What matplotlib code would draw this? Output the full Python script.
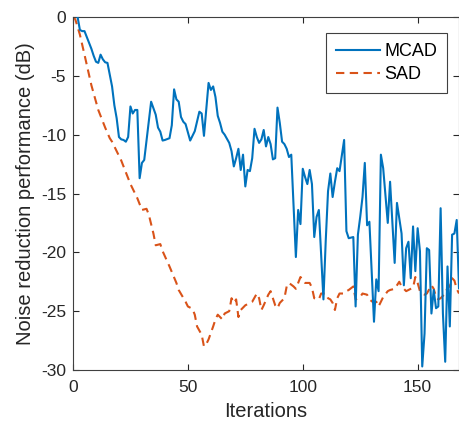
import matplotlib
matplotlib.use("Agg")
import matplotlib.pyplot as plt

plt.rcParams['font.family'] = ['Liberation Sans', 'DejaVu Sans']
plt.rcParams['axes.unicode_minus'] = False

# MCAD vertices (iteration, dB)
mcad_iter = [0, 2, 3, 4, 5, 6, 8, 9, 10, 11, 12, 13, 14, 15, 17, 18, 19, 20, 21, 22,
             23, 24, 25, 26, 27, 28, 29, 30, 31, 34, 36, 37, 38, 39, 40, 42, 43, 44, 45, 46,
             47, 48, 49, 51, 53, 55, 56, 57, 59, 60, 61, 62, 63, 64, 65, 66, 68, 69, 70, 71,
             72, 73, 74, 75, 76, 77, 78, 79, 80, 81, 82, 83, 84, 85, 86, 87, 88, 89, 90, 91,
             92, 93, 94, 95, 97, 98, 99, 100, 101, 102, 103, 104, 105, 106, 107, 109, 110, 111, 112, 113,
             114, 115, 116, 117, 118, 119, 120, 122, 123, 124, 125, 126, 127, 128, 129, 131, 132, 133, 134, 135,
             137, 138, 140, 141, 143, 144, 145, 146, 147, 148, 149, 150, 151, 152, 153, 154, 155, 156, 157, 158,
             159, 160, 161, 162, 163, 164, 165, 166, 167, 168]
mcad_db = [0.4, 0.0, -1.1, -1.2, -1.2, -1.7, -2.7, -3.3, -3.8, -3.9, -3.2, -3.6, -3.85, -3.9, -5.9, -7.5, -8.6, -10.2, -10.4, -10.45,
           -10.6, -10.2, -7.6, -8.2, -7.9, -7.9, -13.7, -12.4, -12.15, -7.2, -8.3, -9.4, -9.75, -10.5, -10.45, -10.3, -9.2, -6.15, -7.0, -7.2,
           -8.5, -8.9, -9.1, -10.5, -9.7, -8.05, -8.2, -10.1, -5.6, -6.2, -5.9, -6.8, -8.4, -9.0, -9.75, -10.0, -10.7, -11.4, -12.7, -12.0,
           -11.2, -13.0, -11.7, -14.4, -13.0, -13.1, -12.0, -9.5, -10.2, -10.7, -10.4, -9.6, -11.0, -10.2, -10.8, -12.1, -12.0, -7.7, -9.0, -10.6,
           -10.8, -11.2, -11.9, -11.7, -20.4, -16.4, -17.6, -12.9, -13.6, -14.2, -13.0, -14.2, -18.7, -17.0, -16.4, -24.0, -19.0, -14.8, -13.3, -15.3,
           -14.0, -12.85, -13.1, -11.8, -10.45, -18.2, -18.8, -18.7, -24.6, -18.5, -17.0, -15.3, -12.4, -17.7, -17.4, -25.9, -22.3, -23.3, -11.7, -12.85,
           -17.5, -14.0, -20.9, -15.8, -18.4, -22.8, -19.65, -19.1, -22.2, -17.8, -21.6, -17.95, -19.9, -29.7, -26.9, -19.65, -19.8, -25.2, -23.2, -24.75,
           -24.6, -16.25, -25.2, -29.3, -21.2, -26.3, -18.5, -18.4, -17.25, -23.05]

# SAD vertices (iteration, dB)
sad_iter = [0, 1, 3, 5, 8, 11, 14, 16, 17, 18, 21, 25, 28, 30, 32, 33, 35, 36, 38, 39,
            42, 45, 46, 49, 50, 52, 53, 54, 56, 57, 58, 59, 61, 62, 63, 65, 66, 68, 69, 70,
            71, 72, 73, 75, 78, 80, 81, 82, 83, 85, 86, 88, 89, 90, 92, 93, 94, 96, 97, 99,
            100, 101, 103, 104, 105, 107, 108, 110, 111, 112, 113, 114, 115, 116, 118, 119, 120, 122, 123, 125,
            126, 128, 129, 131, 132, 133, 135, 137, 138, 140, 142, 143, 145, 146, 148, 149, 150, 151, 153, 154,
            156, 157, 158, 159, 160, 162, 163, 164, 165, 166, 167, 168]
sad_db = [0.0, -0.2, -1.5, -3.2, -5.8, -7.9, -9.4, -10.3, -10.6, -11.0, -12.2, -14.2, -15.4, -16.4, -16.3, -16.8, -18.4, -19.4, -19.3, -19.9,
          -21.2, -22.6, -23.2, -24.2, -24.6, -24.8, -25.3, -26.3, -27.0, -28.0, -27.8, -27.4, -26.3, -25.7, -25.3, -25.7, -25.2, -25.0, -23.9, -24.3,
          -24.0, -25.5, -24.9, -24.5, -24.2, -23.5, -23.9, -24.9, -24.5, -23.6, -23.3, -24.5, -24.75, -24.3, -23.9, -22.9, -22.6, -22.9, -23.1, -22.1,
          -22.3, -22.6, -22.6, -23.0, -23.9, -24.0, -23.5, -23.5, -23.9, -24.0, -24.3, -24.9, -23.9, -23.5, -23.5, -23.3, -23.2, -22.9, -24.0, -23.8,
          -23.5, -23.6, -24.0, -24.3, -24.2, -24.6, -23.8, -23.3, -23.2, -23.1, -22.5, -22.9, -23.3, -23.2, -23.0, -22.1, -22.6, -23.3, -23.6, -23.5,
          -22.8, -23.1, -23.8, -24.0, -23.9, -23.5, -23.0, -22.9, -22.2, -22.4, -23.1, -23.5]

series_names = ["MCAD", "SAD"]
x_ticks = [0, 50, 100, 150]
y_ticks = [0, -5, -10, -15, -20, -25, -30]

fig = plt.figure(figsize=(4.6, 4.3), dpi=100)
ax = fig.add_axes([73/460, 1-370/430, (459-73)/460, (370-17)/430])

ax.plot(mcad_iter, mcad_db, color='#0072BD', lw=1.5, label=series_names[0], zorder=3)
ax.plot(sad_iter, sad_db, color='#D95319', lw=1.5, ls=(0, (4, 2.6)), label=series_names[1], zorder=2)

ax.set_xlim(0, 168)
ax.set_ylim(-30, 0)
ax.set_xticks(x_ticks)
ax.set_yticks(y_ticks)
ax.tick_params(direction='in', length=4, width=0.8, colors='#262626', labelsize=12.5,
               top=True, right=True)
ax.tick_params(axis='x', pad=7)
ax.tick_params(axis='y', pad=5)
for s in ax.spines.values():
    s.set_color('#404040')
    s.set_linewidth(0.8)
ax.set_xlabel('Iterations', fontsize=14.5, color='#262626', labelpad=5)
ax.set_ylabel('Noise reduction performance (dB)', fontsize=14.5, color='#262626', labelpad=4)

leg = ax.legend(loc='upper right', bbox_to_anchor=((447-73)/386, (370-33)/353),
                borderaxespad=0, fontsize=13, fancybox=False, framealpha=1,
                edgecolor='#404040', handlelength=2.4, handletextpad=0.25,
                borderpad=0.55, labelspacing=0.35)
leg.get_frame().set_linewidth(0.8)

fig.savefig('out.png', dpi=100)
